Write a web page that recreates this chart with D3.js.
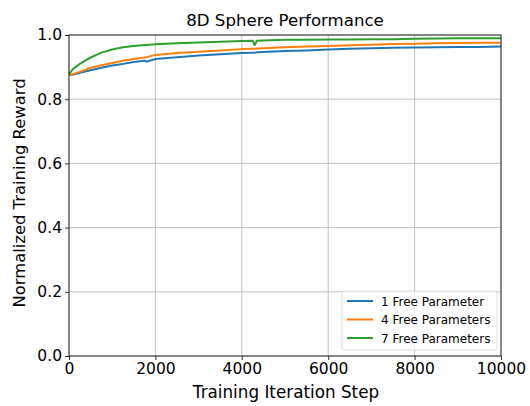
<!DOCTYPE html>
<html>
<head>
<meta charset="utf-8">
<script src="https://cdn.jsdelivr.net/npm/d3@7"></script>
<style>
  html, body { margin: 0; padding: 0; background: #fff; }
  svg text { font-family: "DejaVu Sans", sans-serif; fill: #000; }
</style>
</head>
<body>
<svg id="chart" width="530" height="406"></svg>
<script>
// Training steps at which the normalized reward was logged
const steps = [0, 100, 250, 500, 750, 1000, 1250, 1500, 1750, 1800, 2000, 2500, 3000, 3500, 4000,
               4250, 4300, 4350, 4500, 5000, 5500, 6000, 6500, 7000, 7500, 8000, 8500, 9000, 9500, 10000];

const oneFree = [0.875, 0.877, 0.882, 0.890, 0.898, 0.905, 0.910, 0.916, 0.920, 0.917, 0.925, 0.931, 0.936, 0.940, 0.944,
                 0.945, 0.945, 0.946, 0.947, 0.950, 0.952, 0.955, 0.957, 0.959, 0.960, 0.961, 0.962, 0.963, 0.963, 0.964];
const fourFree = [0.875, 0.879, 0.885, 0.898, 0.906, 0.913, 0.920, 0.925, 0.930, 0.931, 0.938, 0.944, 0.948, 0.952, 0.956,
                  0.957, 0.957, 0.958, 0.959, 0.962, 0.964, 0.966, 0.968, 0.970, 0.972, 0.973, 0.974, 0.975, 0.976, 0.976];
const sevenFree = [0.878, 0.895, 0.910, 0.930, 0.945, 0.955, 0.962, 0.966, 0.969, 0.969, 0.971, 0.974, 0.977, 0.979, 0.981,
                   0.982, 0.969, 0.982, 0.983, 0.985, 0.985, 0.986, 0.986, 0.987, 0.987, 0.988, 0.989, 0.990, 0.990, 0.990];

const seriesNames = ["1 Free Parameter", "4 Free Parameters", "7 Free Parameters"];
const seriesColors = ["#1f77b4", "#ff7f0e", "#2ca02c"];
const xTicks = [0, 2000, 4000, 6000, 8000, 10000];
const yTicks = [0.0, 0.2, 0.4, 0.6, 0.8, 1.0];

const series = [oneFree, fourFree, sevenFree].map((vals, i) => ({
  name: seriesNames[i],
  color: seriesColors[i],
  points: steps.map((s, j) => ({ x: s, y: vals[j] }))
}));

const svg = d3.select("#chart");
const margin = { left: 69, right: 29, top: 35, bottom: 50 };
const W = 530, H = 406;
const iw = W - margin.left - margin.right;
const ih = H - margin.top - margin.bottom;

const x = d3.scaleLinear().domain([0, 10000]).range([margin.left, margin.left + iw]);
const y = d3.scaleLinear().domain([0, 1]).range([margin.top + ih, margin.top]);

// grid
const grid = svg.append("g");
grid.selectAll("line.gx").data(xTicks).enter().append("line")
  .attr("x1", d => x(d)).attr("x2", d => x(d))
  .attr("y1", margin.top).attr("y2", margin.top + ih)
  .attr("stroke", "#b0b0b0").attr("stroke-width", 0.8);
grid.selectAll("line.gy").data(yTicks).enter().append("line")
  .attr("x1", margin.left).attr("x2", margin.left + iw)
  .attr("y1", d => y(d)).attr("y2", d => y(d))
  .attr("stroke", "#b0b0b0").attr("stroke-width", 0.8);

// lines
const line = d3.line().x(d => x(d.x)).y(d => y(d.y));
svg.append("g").selectAll("path").data(series).enter().append("path")
  .attr("d", d => line(d.points))
  .attr("fill", "none")
  .attr("stroke", d => d.color)
  .attr("stroke-width", 2)
  .attr("stroke-linejoin", "round");

// axes
const xAxis = svg.append("g")
  .attr("transform", `translate(0,${margin.top + ih})`)
  .call(d3.axisBottom(x).tickValues(xTicks).tickFormat(d3.format("d")).tickSizeOuter(0).tickSize(4).tickPadding(3));
const yAxis = svg.append("g")
  .attr("transform", `translate(${margin.left},0)`)
  .call(d3.axisLeft(y).tickValues(yTicks).tickFormat(d3.format(".1f")).tickSizeOuter(0).tickSize(4).tickPadding(3));
[xAxis, yAxis].forEach(a => {
  a.select(".domain").remove();
  a.selectAll("text").attr("font-size", 15.5).attr("font-family", "DejaVu Sans").attr("fill", "#000");
  a.selectAll("line").attr("stroke", "#000").attr("stroke-width", 0.8);
});

// frame
svg.append("rect")
  .attr("x", margin.left).attr("y", margin.top)
  .attr("width", iw).attr("height", ih)
  .attr("fill", "none").attr("stroke", "#000").attr("stroke-width", 0.8);

// title and axis labels
svg.append("text").attr("x", margin.left + iw / 2).attr("y", 26)
  .attr("text-anchor", "middle").attr("font-size", 16.6).text("8D Sphere Performance");
svg.append("text").attr("x", 286).attr("y", 398)
  .attr("text-anchor", "middle").attr("font-size", 16.8).text("Training Iteration Step");
svg.append("text")
  .attr("transform", `translate(25,193) rotate(-90)`)
  .attr("text-anchor", "middle").attr("font-size", 16.4).text("Normalized Training Reward");

// legend
const lg = svg.append("g").attr("transform", "translate(342,291)");
lg.append("rect").attr("width", 155).attr("height", 59).attr("rx", 3)
  .attr("fill", "rgba(255,255,255,0.8)").attr("stroke", "#d6d6d6").attr("stroke-width", 0.8);
const items = lg.selectAll("g.item").data(series).enter().append("g")
  .attr("transform", (d, i) => `translate(0,${10 + i * 18.5})`);
items.append("line").attr("x1", 5).attr("x2", 31).attr("y1", 0).attr("y2", 0)
  .attr("stroke", d => d.color).attr("stroke-width", 2);
items.append("text").attr("x", 39).attr("y", 4.5).attr("font-size", 12).text(d => d.name);
</script>
</body>
</html>
